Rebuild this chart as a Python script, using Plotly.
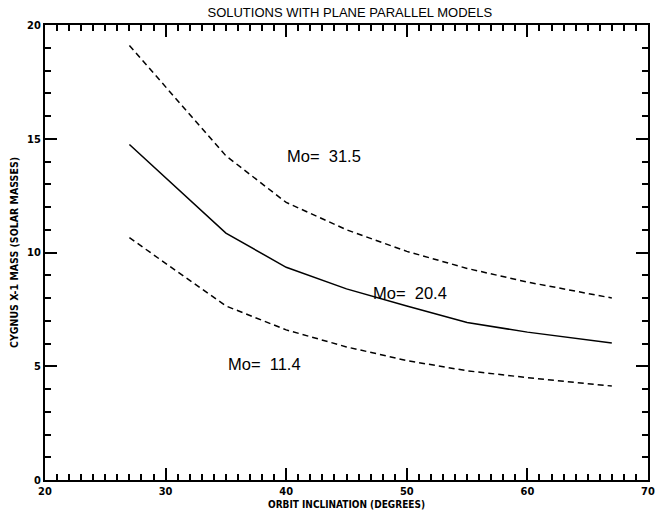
import plotly.graph_objects as go

# Orbit inclination (degrees) at which the mass solutions were computed
inclination = [27, 35, 40, 45, 50, 55, 60, 67]

# Cygnus X-1 mass (solar masses) for three companion masses Mo
mass_high = [19.1, 14.25, 12.2, 11.0, 10.05, 9.3, 8.7, 8.0]    # Mo = 31.5
mass_mid = [14.75, 10.85, 9.35, 8.4, 7.65, 6.92, 6.5, 6.02]     # Mo = 20.4
mass_low = [10.65, 7.65, 6.6, 5.85, 5.25, 4.8, 4.5, 4.13]       # Mo = 11.4

label_text = ["Mo=\u00a0\u00a031.5", "Mo=\u00a0\u00a020.4", "Mo=\u00a0\u00a011.4"]
label_x = [39.9, 47.0, 35.0]
label_y = [14.25, 8.2, 5.1]

title_text = "SOLUTIONS WITH PLANE PARALLEL MODELS"
x_title = "ORBIT INCLINATION (DEGREES)"
y_title = "CYGNUS X-1 MASS (SOLAR MASSES)"

narrow = "DejaVu Sans Condensed, Liberation Sans, Arial, sans-serif"

fig = go.Figure()
fig.add_trace(go.Scatter(x=inclination, y=mass_high, mode="lines",
                         line=dict(color="black", width=1.5, dash="6px,4px")))
fig.add_trace(go.Scatter(x=inclination, y=mass_mid, mode="lines",
                         line=dict(color="black", width=1.5)))
fig.add_trace(go.Scatter(x=inclination, y=mass_low, mode="lines",
                         line=dict(color="black", width=1.5, dash="6px,4px")))

for t, xv, yv in zip(label_text, label_x, label_y):
    fig.add_annotation(x=xv, y=yv, text=t, showarrow=False, xanchor="left",
                       yanchor="middle",
                       font=dict(family="Liberation Sans", size=16.5, color="black"))

axis_common = dict(
    showgrid=False, zeroline=False,
    showline=True, linecolor="black", linewidth=2, mirror="allticks",
    ticks="inside", ticklen=12, tickwidth=1.5, tickcolor="black",
    tickfont=dict(family=narrow, size=11, color="black", weight="bold"),
    minor=dict(ticks="inside", ticklen=6, tickwidth=1.5, tickcolor="black", dtick=1),
)

fig.update_xaxes(range=[20, 70], dtick=10, tick0=20, **axis_common,
                 title=dict(text=x_title, standoff=4,
                            font=dict(family=narrow, size=10,
                                      color="black", weight="bold")))
fig.update_yaxes(range=[0, 20], dtick=5, tick0=0, **axis_common,
                 title=dict(text=y_title, standoff=6,
                            font=dict(family=narrow, size=10.5,
                                      color="black", weight="bold")))

fig.update_layout(
    width=660, height=517,
    margin=dict(l=45, r=5, t=25, b=37),
    paper_bgcolor="white", plot_bgcolor="white",
    showlegend=False,
    title=dict(text=title_text, x=0.53, xanchor="center", y=0.985, yanchor="top",
               font=dict(family="Liberation Sans", size=13, color="black")),
)

fig.write_html("out.html")
